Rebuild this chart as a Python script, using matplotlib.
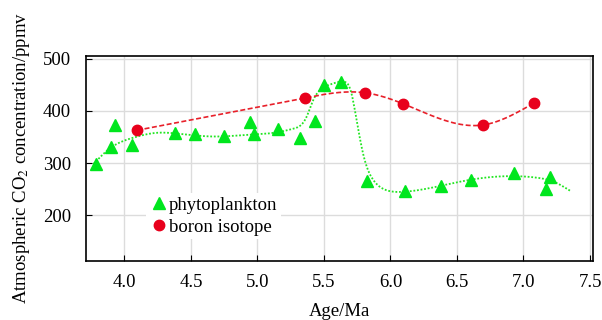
import matplotlib
matplotlib.use("Agg")
import matplotlib.pyplot as plt
import numpy as np

plt.rcParams['font.family'] = ['Liberation Serif', 'DejaVu Serif']
plt.rcParams['mathtext.fontset'] = 'stix'

# phytoplankton estimates (age in Ma, CO2 in ppmv)
phyto_age = [3.785, 3.898, 3.93, 4.06, 4.379, 4.53, 4.752, 4.943, 4.973, 5.153,
             5.323, 5.436, 5.499, 5.627, 5.822, 6.113, 6.381, 6.604, 6.925, 7.168, 7.198]
phyto_co2 = [298, 331, 373, 335, 357, 356, 352, 379, 356, 366,
             349, 381, 449, 456, 266, 247, 256, 268, 281, 250, 274]

# smoothed trend through the phytoplankton data
trend_age = [3.767, 3.89, 4.07, 4.24, 4.42, 4.67, 4.92, 5.17, 5.27, 5.37, 5.42,
             5.47, 5.55, 5.65, 5.70, 5.75, 5.80, 5.87, 5.97, 6.10, 6.37, 6.60,
             6.92, 7.10, 7.23, 7.35]
trend_co2 = [298, 328, 349, 358, 356, 351, 354, 360, 366, 389, 421,
             440, 451, 456, 440, 376, 312, 268, 248, 245, 256, 268,
             275, 272, 264, 247]

# boron isotope estimates
boron_age = [4.096, 5.356, 5.805, 6.093, 6.692, 7.078]
boron_co2 = [363, 425, 435, 414, 373, 415]


def natural_spline(x, y, n=400):
    x = np.asarray(x, float)
    y = np.asarray(y, float)
    k = len(x)
    h = np.diff(x)
    A = np.zeros((k, k))
    b = np.zeros(k)
    A[0, 0] = A[-1, -1] = 1
    for i in range(1, k - 1):
        A[i, i - 1] = h[i - 1]
        A[i, i] = 2 * (h[i - 1] + h[i])
        A[i, i + 1] = h[i]
        b[i] = 3 * ((y[i + 1] - y[i]) / h[i] - (y[i] - y[i - 1]) / h[i - 1])
    c = np.linalg.solve(A, b)
    bb = (y[1:] - y[:-1]) / h - h * (2 * c[:-1] + c[1:]) / 3
    d = (c[1:] - c[:-1]) / (3 * h)
    xs = np.linspace(x[0], x[-1], n)
    idx = np.clip(np.searchsorted(x, xs) - 1, 0, k - 2)
    dx = xs - x[idx]
    ys = y[idx] + bb[idx] * dx + c[idx] * dx ** 2 + d[idx] * dx ** 3
    return xs, ys


fig = plt.figure(figsize=(6.02, 3.2), dpi=100)
ax = fig.add_axes([0.143, 0.184, 0.8415, 0.642])

gx, gy = natural_spline(trend_age, trend_co2)
ax.plot(gx, gy, color='#22e622', linestyle=(0, (1, 1)), lw=1.3, zorder=2)
rx, ry = natural_spline(boron_age, boron_co2)
ax.plot(rx, ry, color='#e8202a', linestyle=(0, (3, 1.5)), lw=1.2, zorder=2)

ax.plot(phyto_age, phyto_co2, linestyle='none', marker='^', ms=8,
        color='#00e61e', label='phytoplankton', zorder=3)
ax.plot(boron_age, boron_co2, linestyle='none', marker='o', ms=7.5,
        color='#e8001c', label='boron isotope', zorder=3)

ax.set_xlim(3.712, 7.52)
ax.set_ylim(112, 506)
ax.set_xticks([4.0, 4.5, 5.0, 5.5, 6.0, 6.5, 7.0, 7.5])
ax.set_xticklabels(['4.0', '4.5', '5.0', '5.5', '6.0', '6.5', '7.0', '7.5'])
ax.set_yticks([200, 300, 400, 500])
ax.grid(True, color='#dcdcdc', lw=1)
ax.set_axisbelow(True)
ax.tick_params(direction='in', labelsize=13.5, length=4, color='black')
ax.tick_params(axis='x', pad=9)
ax.tick_params(axis='y', pad=11)
for s in ax.spines.values():
    s.set_linewidth(1.2)

ax.set_xlabel('Age/Ma', fontsize=13.5, labelpad=9)
ax.set_ylabel('Atmospheric CO$_2$ concentration/ppmv', fontsize=13.5, labelpad=8)

leg = ax.legend(loc='lower left', bbox_to_anchor=(0.1, 0.06), frameon=True,
                fontsize=13.5, handletextpad=0.0, handlelength=1.0,
                borderpad=0.2, labelspacing=0.25)
leg.get_frame().set_edgecolor('none')
leg.get_frame().set_facecolor('white')
leg.get_frame().set_alpha(1)

fig.savefig('out.png', dpi=100)
